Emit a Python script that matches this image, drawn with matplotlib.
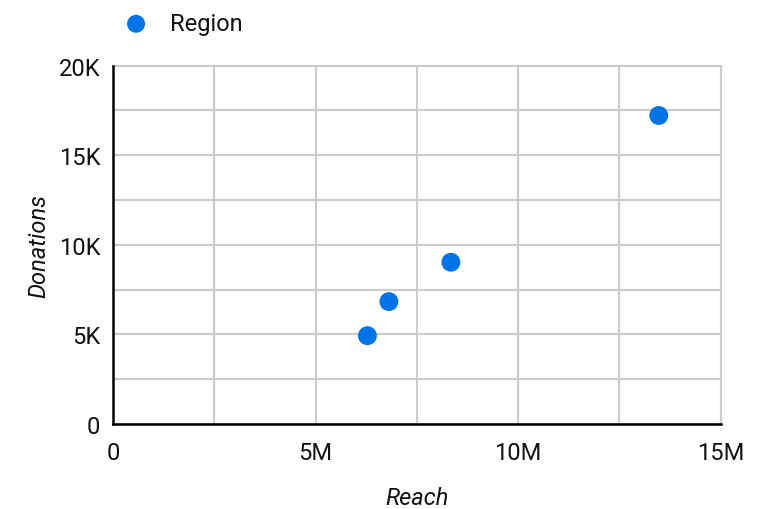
import matplotlib
matplotlib.use("Agg")
import matplotlib.pyplot as plt
from matplotlib.ticker import MultipleLocator, FixedLocator

plt.rcParams['font.family'] = ['Roboto', 'DejaVu Sans']

# Reach (people) vs donations per region
reach = [6.28e6, 6.81e6, 8.34e6, 13.47e6]
donations = [4930, 6830, 9030, 17220]
series_name = "Region"

x_ticks = [0, 5e6, 10e6, 15e6]
x_tick_labels = ["0", "5M", "10M", "15M"]
y_ticks = [0, 5000, 10000, 15000, 20000]
y_tick_labels = ["0", "5K", "10K", "15K", "20K"]

blue = "#0073E6"
grid_c = "#cccccc"
text_c = "#111111"
fs = 17

fig = plt.figure(figsize=(7.77, 5.10), dpi=100)
ax = fig.add_axes([0.1454, 0.1667, 0.9276 - 0.1454, 0.8692 - 0.1667])

ax.set_xlim(0, 15e6)
ax.set_ylim(0, 20000)

ax.xaxis.set_major_locator(FixedLocator(x_ticks))
ax.set_xticklabels(x_tick_labels)
ax.xaxis.set_minor_locator(MultipleLocator(2.5e6))
ax.yaxis.set_major_locator(FixedLocator(y_ticks))
ax.set_yticklabels(y_tick_labels)
ax.yaxis.set_minor_locator(MultipleLocator(2500))

ax.grid(True, which='both', color=grid_c, linewidth=1.5)
ax.set_axisbelow(True)
ax.tick_params(which='both', length=0, labelsize=fs, colors=text_c)
ax.tick_params(axis='x', pad=12)
ax.tick_params(axis='y', pad=9)

for side in ('top', 'right'):
    ax.spines[side].set_color(grid_c)
    ax.spines[side].set_linewidth(1.5)
for side in ('left', 'bottom'):
    ax.spines[side].set_color('black')
    ax.spines[side].set_linewidth(1.8)
    ax.spines[side].set_zorder(3)

ax.scatter(reach, donations, s=185, color=blue, zorder=4, label=series_name,
           edgecolors='none', clip_on=False)

ax.set_xlabel("Reach", fontstyle='italic', fontsize=fs, labelpad=16, color=text_c)
ax.set_ylabel("Donations", fontstyle='italic', fontsize=fs, labelpad=6, color=text_c)

leg = fig.legend(loc='upper left', bbox_to_anchor=(0.128, 1.0), frameon=False,
                 fontsize=fs, handletextpad=0.45, markerscale=0.95,
                 borderaxespad=0.15)
for t in leg.get_texts():
    t.set_color(text_c)

fig.savefig("out.png", dpi=100, facecolor='white')
